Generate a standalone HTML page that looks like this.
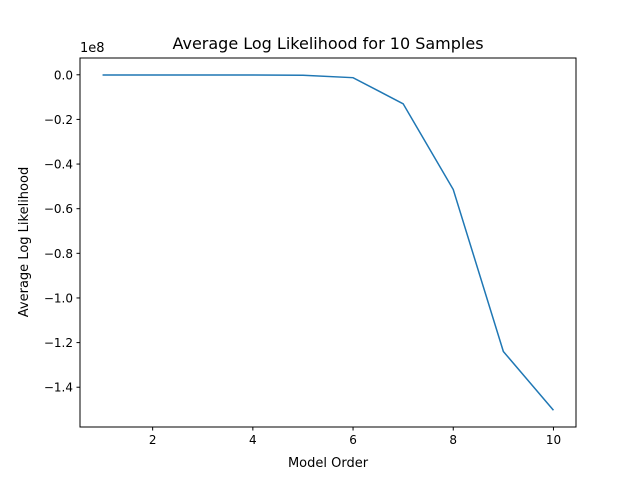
<!DOCTYPE html>
<html><head><meta charset="utf-8"><style>
body{margin:0;background:#fff}
svg text{font-family:"DejaVu Sans","Liberation Sans",sans-serif;fill:#000}
</style></head><body>
<svg id="chart" width="640" height="480" xmlns="http://www.w3.org/2000/svg">
<rect width="640" height="480" fill="#fff"/>
<text x="328" y="49" font-size="16" text-anchor="middle">Average Log Likelihood for 10 Samples</text>
<text x="328" y="467" font-size="13" text-anchor="middle">Model Order</text>
<text transform="translate(28,242) rotate(-90)" font-size="13" text-anchor="middle">Average Log Likelihood</text>
<text x="80" y="52" font-size="13">1e8</text>
<g id="ticks"></g>
<path id="line" fill="none" stroke="#1f77b4" stroke-width="1.5"/>
<rect x="80" y="58" width="496" height="369" fill="none" stroke="#000" stroke-width="1"/>
</svg>
<script>
const orders=[1,2,3,4,5,6,7,8,9,10];
const loglik=[-0.001,-0.001,-0.001,-0.001,-0.002,-0.013,-0.13,-0.514,-1.24,-1.503];
const xTicks=[2,4,6,8,10];
const yTicks=[0,-0.2,-0.4,-0.6,-0.8,-1.0,-1.2,-1.4];
const yTickLabels=["0.0","−0.2","−0.4","−0.6","−0.8","−1.0","−1.2","−1.4"];
const L=80,R=576,T=58,B=427;
const xmin=0.55,xmax=10.45,ymax=0.0752,ymin=-1.5782;
const sx=v=>L+(v-xmin)/(xmax-xmin)*(R-L);
const sy=v=>T+(ymax-v)/(ymax-ymin)*(B-T);
const ns="http://www.w3.org/2000/svg";
const g=document.getElementById('ticks');
function mk(tag,attrs,txt){const e=document.createElementNS(ns,tag);for(const k in attrs)e.setAttribute(k,attrs[k]);if(txt!==undefined)e.textContent=txt;g.appendChild(e);return e;}
xTicks.forEach(t=>{
 const l=mk('line',{x1:sx(t),x2:sx(t),y1:B,y2:B+3.5,stroke:'#000'});
 
 
 const s=mk('text',{x:sx(t),y:B+17,'font-size':12,'text-anchor':'middle'},String(t));
 
 
});
yTicks.forEach((t,i)=>{
 const l=mk('line',{x1:L-3.5,x2:L,y1:sy(t),y2:sy(t),stroke:'#000'});
 
 
 const s=mk('text',{x:L-7,y:sy(t)+4.5,'font-size':12,'text-anchor':'end'},yTickLabels[i]);
 
 
});
document.getElementById('line').setAttribute('d',orders.map((o,i)=>(i?'L':'M')+sx(o)+','+sy(loglik[i])).join(' '));
</script>
</body></html>
